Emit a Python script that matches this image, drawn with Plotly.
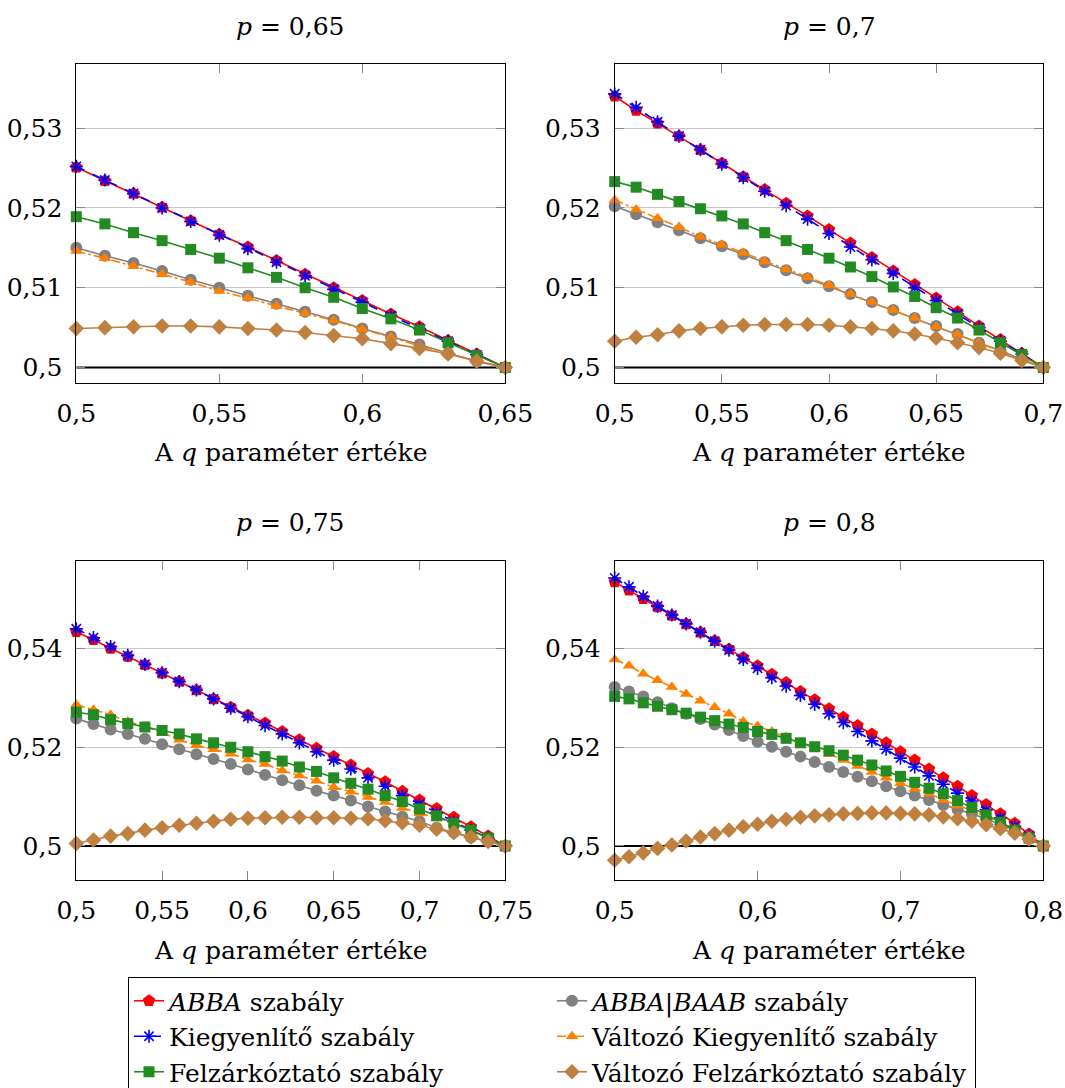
import plotly.graph_objects as go

# ---------------- data ----------------
q_065 = [0.50, 0.51, 0.52, 0.53, 0.54, 0.55, 0.56, 0.57, 0.58, 0.59, 0.60, 0.61, 0.62, 0.63, 0.64, 0.65]
q_070 = [0.50, 0.51, 0.52, 0.53, 0.54, 0.55, 0.56, 0.57, 0.58, 0.59, 0.60, 0.61, 0.62, 0.63, 0.64, 0.65,
         0.66, 0.67, 0.68, 0.69, 0.70]
q_075 = [0.50, 0.51, 0.52, 0.53, 0.54, 0.55, 0.56, 0.57, 0.58, 0.59, 0.60, 0.61, 0.62, 0.63, 0.64, 0.65,
         0.66, 0.67, 0.68, 0.69, 0.70, 0.71, 0.72, 0.73, 0.74, 0.75]
q_080 = [0.50, 0.51, 0.52, 0.53, 0.54, 0.55, 0.56, 0.57, 0.58, 0.59, 0.60, 0.61, 0.62, 0.63, 0.64, 0.65,
         0.66, 0.67, 0.68, 0.69, 0.70, 0.71, 0.72, 0.73, 0.74, 0.75, 0.76, 0.77, 0.78, 0.79, 0.80]

# p = 0,65
abba_065 = [0.5251, 0.5234, 0.5218, 0.5201, 0.5184, 0.5167, 0.5151, 0.5134, 0.5117, 0.5100, 0.5084, 0.5067, 0.5051, 0.5034, 0.5017, 0.5000]
abbabaab_065 = [0.5150, 0.5140, 0.5131, 0.5121, 0.5110, 0.5100, 0.5090, 0.5080, 0.5070, 0.5060, 0.5049, 0.5039, 0.5029, 0.5018, 0.5008, 0.5000]
kiegy_065 = [0.5252, 0.5235, 0.5218, 0.5200, 0.5183, 0.5166, 0.5149, 0.5132, 0.5115, 0.5098, 0.5082, 0.5065, 0.5049, 0.5033, 0.5016, 0.5000]
vkiegy_065 = [0.5146, 0.5137, 0.5127, 0.5117, 0.5107, 0.5096, 0.5087, 0.5077, 0.5068, 0.5059, 0.5048, 0.5038, 0.5027, 0.5018, 0.5008, 0.5000]
felz_065 = [0.5189, 0.5180, 0.5169, 0.5159, 0.5148, 0.5137, 0.5125, 0.5113, 0.5100, 0.5088, 0.5074, 0.5061, 0.5047, 0.5031, 0.5015, 0.5000]
vfelz_065 = [0.5049, 0.5050, 0.5051, 0.5052, 0.5052, 0.5051, 0.5049, 0.5047, 0.5044, 0.5040, 0.5036, 0.5030, 0.5024, 0.5017, 0.5008, 0.5000]

# p = 0,7
abba_070 = [0.5340, 0.5322, 0.5306, 0.5290, 0.5273, 0.5256, 0.5239, 0.5223, 0.5206, 0.5190, 0.5173, 0.5156, 0.5138, 0.5121, 0.5104, 0.5087, 0.5070, 0.5052, 0.5035, 0.5018, 0.5000]
abbabaab_070 = [0.5202, 0.5192, 0.5182, 0.5172, 0.5162, 0.5152, 0.5142, 0.5132, 0.5122, 0.5112, 0.5102, 0.5092, 0.5082, 0.5072, 0.5062, 0.5052, 0.5042, 0.5031, 0.5021, 0.5010, 0.5000]
kiegy_070 = [0.5343, 0.5326, 0.5308, 0.5290, 0.5273, 0.5255, 0.5238, 0.5221, 0.5203, 0.5186, 0.5168, 0.5151, 0.5135, 0.5118, 0.5100, 0.5084, 0.5067, 0.5050, 0.5033, 0.5017, 0.5000]
vkiegy_070 = [0.5210, 0.5198, 0.5187, 0.5176, 0.5164, 0.5154, 0.5144, 0.5133, 0.5123, 0.5113, 0.5103, 0.5092, 0.5082, 0.5072, 0.5062, 0.5051, 0.5041, 0.5031, 0.5020, 0.5010, 0.5000]
felz_070 = [0.5233, 0.5226, 0.5217, 0.5208, 0.5199, 0.5190, 0.5180, 0.5169, 0.5159, 0.5148, 0.5137, 0.5126, 0.5114, 0.5101, 0.5089, 0.5075, 0.5062, 0.5047, 0.5031, 0.5016, 0.5000]
vfelz_070 = [0.5033, 0.5038, 0.5041, 0.5046, 0.5049, 0.5051, 0.5053, 0.5054, 0.5054, 0.5054, 0.5053, 0.5051, 0.5049, 0.5046, 0.5042, 0.5037, 0.5031, 0.5025, 0.5018, 0.5009, 0.5000]

# p = 0,75
abba_075 = [0.5434, 0.5418, 0.5400, 0.5384, 0.5367, 0.5350, 0.5333, 0.5316, 0.5298, 0.5281, 0.5265, 0.5249, 0.5232, 0.5215, 0.5198, 0.5181, 0.5164, 0.5147, 0.5130, 0.5111, 0.5093, 0.5076, 0.5058, 0.5039, 0.5020, 0.5000]
abbabaab_075 = [0.5258, 0.5247, 0.5236, 0.5227, 0.5217, 0.5206, 0.5196, 0.5186, 0.5176, 0.5166, 0.5155, 0.5144, 0.5133, 0.5123, 0.5112, 0.5102, 0.5092, 0.5080, 0.5070, 0.5059, 0.5050, 0.5037, 0.5027, 0.5017, 0.5009, 0.5000]
kiegy_075 = [0.5440, 0.5422, 0.5404, 0.5386, 0.5368, 0.5351, 0.5333, 0.5316, 0.5298, 0.5279, 0.5262, 0.5244, 0.5227, 0.5209, 0.5191, 0.5174, 0.5156, 0.5138, 0.5121, 0.5102, 0.5085, 0.5067, 0.5049, 0.5032, 0.5016, 0.5000]
vkiegy_075 = [0.5286, 0.5276, 0.5266, 0.5252, 0.5242, 0.5230, 0.5215, 0.5204, 0.5196, 0.5187, 0.5175, 0.5166, 0.5153, 0.5143, 0.5132, 0.5119, 0.5110, 0.5099, 0.5089, 0.5077, 0.5066, 0.5057, 0.5046, 0.5031, 0.5016, 0.5000]
felz_075 = [0.5271, 0.5266, 0.5256, 0.5248, 0.5241, 0.5234, 0.5227, 0.5217, 0.5209, 0.5200, 0.5191, 0.5181, 0.5172, 0.5160, 0.5151, 0.5138, 0.5127, 0.5115, 0.5102, 0.5090, 0.5075, 0.5061, 0.5046, 0.5032, 0.5016, 0.5000]
vfelz_075 = [0.5005, 0.5012, 0.5020, 0.5025, 0.5032, 0.5037, 0.5042, 0.5046, 0.5050, 0.5054, 0.5056, 0.5057, 0.5058, 0.5058, 0.5057, 0.5057, 0.5056, 0.5055, 0.5051, 0.5047, 0.5042, 0.5034, 0.5027, 0.5018, 0.5009, 0.5000]

# p = 0,8
abba_080 = [0.5535, 0.5518, 0.5501, 0.5484, 0.5467, 0.5450, 0.5433, 0.5416, 0.5399, 0.5382, 0.5365, 0.5348, 0.5331, 0.5313, 0.5296, 0.5278, 0.5261, 0.5244, 0.5227, 0.5209, 0.5191, 0.5174, 0.5156, 0.5138, 0.5121, 0.5102, 0.5084, 0.5065, 0.5046, 0.5024, 0.5000]
abbabaab_080 = [0.5322, 0.5313, 0.5303, 0.5291, 0.5279, 0.5268, 0.5257, 0.5246, 0.5235, 0.5223, 0.5211, 0.5201, 0.5191, 0.5181, 0.5170, 0.5160, 0.5150, 0.5140, 0.5131, 0.5121, 0.5111, 0.5102, 0.5093, 0.5083, 0.5074, 0.5065, 0.5055, 0.5044, 0.5032, 0.5018, 0.5000]
kiegy_080 = [0.5543, 0.5525, 0.5506, 0.5486, 0.5468, 0.5450, 0.5433, 0.5415, 0.5397, 0.5378, 0.5360, 0.5341, 0.5324, 0.5305, 0.5287, 0.5268, 0.5250, 0.5232, 0.5213, 0.5196, 0.5178, 0.5160, 0.5142, 0.5125, 0.5107, 0.5091, 0.5073, 0.5057, 0.5040, 0.5020, 0.5000]
vkiegy_080 = [0.5378, 0.5365, 0.5349, 0.5336, 0.5322, 0.5308, 0.5294, 0.5281, 0.5268, 0.5252, 0.5243, 0.5232, 0.5221, 0.5209, 0.5198, 0.5186, 0.5174, 0.5162, 0.5150, 0.5138, 0.5127, 0.5116, 0.5106, 0.5093, 0.5082, 0.5072, 0.5059, 0.5048, 0.5034, 0.5018, 0.5000]
felz_080 = [0.5303, 0.5298, 0.5290, 0.5283, 0.5276, 0.5269, 0.5261, 0.5254, 0.5247, 0.5240, 0.5232, 0.5226, 0.5218, 0.5209, 0.5201, 0.5193, 0.5184, 0.5174, 0.5164, 0.5152, 0.5141, 0.5129, 0.5117, 0.5106, 0.5092, 0.5078, 0.5063, 0.5048, 0.5032, 0.5016, 0.5000]
vfelz_080 = [0.4971, 0.4978, 0.4986, 0.4995, 0.5002, 0.5010, 0.5018, 0.5025, 0.5032, 0.5039, 0.5044, 0.5050, 0.5054, 0.5058, 0.5061, 0.5063, 0.5065, 0.5066, 0.5067, 0.5067, 0.5066, 0.5065, 0.5063, 0.5059, 0.5055, 0.5050, 0.5043, 0.5035, 0.5026, 0.5014, 0.5000]

series_names = ["<i>ABBA</i> szabály", "<i>ABBA</i>|<i>BAAB</i> szabály", "Kiegyenlítő szabály",
                "Változó Kiegyenlítő szabály", "Felzárkóztató szabály", "Változó Felzárkóztató szabály"]
panel_titles = ["<i>p</i> = 0,65", "<i>p</i> = 0,7", "<i>p</i> = 0,75", "<i>p</i> = 0,8"]
x_title = "A <i>q</i> paraméter értéke"

x_tickvals = [[0.5, 0.55, 0.6, 0.65], [0.5, 0.55, 0.6, 0.65, 0.7],
              [0.5, 0.55, 0.6, 0.65, 0.7, 0.75], [0.5, 0.6, 0.7, 0.8]]
x_ticktext = [["0,5", "0,55", "0,6", "0,65"], ["0,5", "0,55", "0,6", "0,65", "0,7"],
              ["0,5", "0,55", "0,6", "0,65", "0,7", "0,75"], ["0,5", "0,6", "0,7", "0,8"]]
y_tickvals_top = [0.5, 0.51, 0.52, 0.53]
y_ticktext_top = ["0,5", "0,51", "0,52", "0,53"]
y_tickvals_bot = [0.5, 0.52, 0.54]
y_ticktext_bot = ["0,5", "0,52", "0,54"]

panels = [
    (q_065, [abba_065, abbabaab_065, kiegy_065, vkiegy_065, felz_065, vfelz_065]),
    (q_070, [abba_070, abbabaab_070, kiegy_070, vkiegy_070, felz_070, vfelz_070]),
    (q_075, [abba_075, abbabaab_075, kiegy_075, vkiegy_075, felz_075, vfelz_075]),
    (q_080, [abba_080, abbabaab_080, kiegy_080, vkiegy_080, felz_080, vfelz_080]),
]

# ---------------- styles ----------------
styles = [
    dict(color="#FF0000", symbol="pentagon", size=13, dash="solid", mline=0),
    dict(color="#808080", symbol="circle", size=12, dash="solid", mline=0),
    dict(color="#0000FF", symbol="asterisk-open", size=11, dash="dash", mline=1.6),
    dict(color="#FF8000", symbol="triangle-up", size=11, dash="dashdot", mline=0),
    dict(color="#228B22", symbol="square", size=11, dash="solid", mline=0),
    dict(color="#BF8040", symbol="diamond", size=12, dash="solid", mline=0),
]

W, H = 1065, 1088
FONT = "DejaVu Serif"
FS = 25

fig = go.Figure()

# pixel boxes of the four plot areas (left, right, top, bottom)
boxes = [(76.3, 505.3, 64.3, 382.7), (614.7, 1043.3, 64.3, 382.7),
         (76.3, 505.3, 560.7, 880.0), (614.7, 1043.3, 560.7, 880.0)]
x_ranges = [[0.5, 0.65], [0.5, 0.7], [0.5, 0.75], [0.5, 0.8]]
y_ranges = [[0.4981, 0.5380], [0.4981, 0.5380], [0.4931, 0.5578], [0.4931, 0.5578]]

for i, (qv, ser) in enumerate(panels):
    xa = "x" if i == 0 else f"x{i+1}"
    ya = "y" if i == 0 else f"y{i+1}"
    # black reference line at 0,5 (drawn first so the series lie on top)
    fig.add_trace(go.Scatter(x=[x_ranges[i][0], x_ranges[i][1]], y=[0.5, 0.5], mode="lines",
                             line=dict(color="black", width=2), showlegend=False,
                             hoverinfo="skip", xaxis=xa, yaxis=ya, cliponaxis=False))
    for j, (vals, st) in enumerate(zip(ser, styles)):
        marker = dict(symbol=st["symbol"], size=st["size"], color=st["color"])
        if st["mline"]:
            marker["line"] = dict(color=st["color"], width=st["mline"])
        else:
            marker["line"] = dict(width=0)
        fig.add_trace(go.Scatter(
            x=qv, y=vals, mode="lines+markers", name=series_names[j],
            line=dict(color=st["color"], width=1.6, dash=st["dash"]),
            marker=marker, showlegend=(i == 0), xaxis=xa, yaxis=ya, cliponaxis=False,
        ))

layout = dict(
    width=W, height=H, margin=dict(l=0, r=0, t=0, b=0, autoexpand=False),
    paper_bgcolor="white", plot_bgcolor="white",
    font=dict(family=FONT, size=FS, color="black"),
    showlegend=True,
    legend=dict(orientation="h", x=128 / W, y=1 - 977 / H, xanchor="left", yanchor="top",
                bordercolor="black", borderwidth=1, bgcolor="white",
                font=dict(family=FONT, size=FS, color="black"),
                entrywidth=378, itemwidth=30, tracegroupgap=0, traceorder="normal"),
)

annotations = []
for i in range(4):
    l, r, t, b = boxes[i]
    xs = "" if i == 0 else str(i + 1)
    layout[f"xaxis{xs}"] = dict(
        domain=[l / W, r / W], range=x_ranges[i], anchor=f"y{xs}",
        tickvals=x_tickvals[i], ticktext=x_ticktext[i],
        showline=True, linecolor="black", linewidth=1, mirror="ticks",
        ticks="inside", ticklen=9, tickcolor="#888888", tickwidth=1,
        showgrid=False, zeroline=False, ticklabelstandoff=8, automargin=False,
        tickfont=dict(family=FONT, size=FS, color="black"),
    )
    layout[f"yaxis{xs}"] = dict(
        domain=[1 - b / H, 1 - t / H], range=y_ranges[i], anchor=f"x{xs}",
        tickvals=y_tickvals_top if i < 2 else y_tickvals_bot,
        ticktext=y_ticktext_top if i < 2 else y_ticktext_bot,
        showline=True, linecolor="black", linewidth=1, mirror="ticks",
        ticks="inside", ticklen=9, tickcolor="#888888", tickwidth=1,
        showgrid=True, gridcolor="#C8C8C8", gridwidth=1, zeroline=False,
        ticklabelstandoff=8, automargin=False,
        tickfont=dict(family=FONT, size=FS, color="black"),
    )
    cx = (l + r) / 2 / W
    annotations.append(dict(text=panel_titles[i], x=cx, y=1 - (t - 38) / H, xref="paper", yref="paper",
                            xanchor="center", yanchor="middle", showarrow=False,
                            font=dict(family=FONT, size=FS, color="black")))
    annotations.append(dict(text=x_title, x=cx, y=1 - (b + 70) / H, xref="paper", yref="paper",
                            xanchor="center", yanchor="middle", showarrow=False,
                            font=dict(family=FONT, size=FS, color="black")))

layout["annotations"] = annotations
fig.update_layout(**layout)

fig.write_html("out.html",
               config={"displayModeBar": False},
               post_script="document.body.style.margin='0px';document.body.style.padding='0px';"
                           "document.documentElement.style.overflow='hidden';")
